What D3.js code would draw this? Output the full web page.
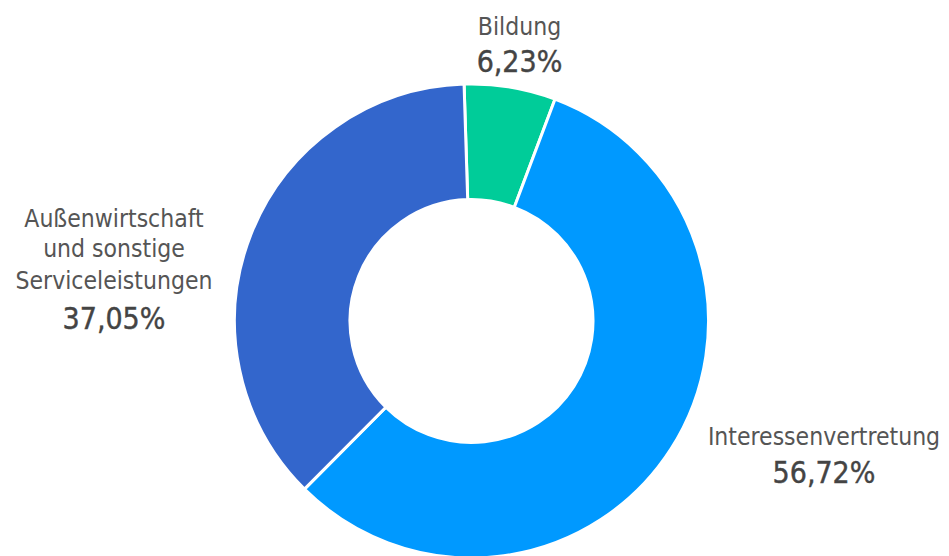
<!DOCTYPE html>
<html><head><meta charset="utf-8">
<script src="https://cdn.jsdelivr.net/npm/d3@7"></script>
<style>body{margin:0;background:#fff;}svg{display:block;}</style>
</head><body>
<script>
const categories = ["Bildung", "Interessenvertretung", "Außenwirtschaft und sonstige Serviceleistungen"];
const values = [6.23, 56.72, 37.05];
const valueLabels = ["6,23%", "56,72%", "37,05%"];
const colors = ["#00CC99", "#0099FF", "#3366CC"];

const W = 949, H = 556;
const cx = 471.5, cy = 321, rOuter = 237, rInner = 121.5;
const rot = -1.8 * Math.PI / 180;
const svg = d3.select("body").append("svg").attr("width", W).attr("height", H);
const g = svg.append("g").attr("transform", `translate(${cx},${cy})`);
const pie = d3.pie().sort(null).value(d => d).startAngle(rot).endAngle(2 * Math.PI + rot)(values);
const arc = d3.arc().innerRadius(rInner).outerRadius(rOuter);
g.selectAll("path").data(pie).join("path")
  .attr("d", arc).attr("fill", (d,i) => colors[i])
  .attr("stroke", "#fff").attr("stroke-width", 3);

const font = "'DejaVu Sans Condensed', 'Liberation Sans Narrow', sans-serif";
const labels = [
  {lines: ["Bildung"], x: 519.5, y: [35], vy: 72},
  {lines: ["Interessenvertretung"], x: 824, y: [445], vy: 483},
  {lines: ["Außenwirtschaft", "und sonstige", "Serviceleistungen"], x: 114, y: [227, 257, 289], vy: 329}
];
labels.forEach((l, i) => {
  l.lines.forEach((t, j) => {
    svg.append("text").attr("x", l.x).attr("y", l.y[j]).attr("text-anchor", "middle")
      .attr("font-family", font).attr("font-size", 24.5).attr("fill", "#555").text(t);
  });
  svg.append("text").attr("x", l.x).attr("y", l.vy).attr("text-anchor", "middle")
    .attr("font-family", font).attr("font-size", 30).attr("fill", "#444")
    .attr("stroke", "#444").attr("stroke-width", 0.4).text(valueLabels[i]);
});
</script>
</body></html>
